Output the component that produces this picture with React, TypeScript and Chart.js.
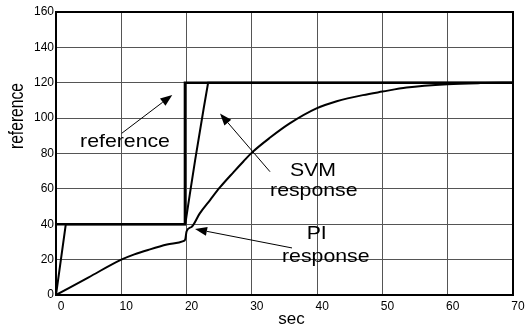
import React, { useEffect, useRef } from 'react';
import { Chart, registerables } from 'chart.js';

Chart.register(...registerables);

// ---- data ----
const refTime = [0, 19.75, 19.75, 70];
const refValue = [40, 40, 120, 120];

const svmTime = [0, 1.5, 19.8, 20.5, 21.3, 22.6, 23.3, 70];
const svmValue = [0, 40, 40, 57, 76, 105, 120, 120];

const piTime = [0, 5, 10, 12, 14.4, 17, 19.5, 19.8, 20, 20.8, 22, 23.6, 25.1, 27.2, 28.7, 30, 32.8, 35.8, 39.9, 43, 47, 50, 53.7, 60, 65, 70];
const piValue = [0, 10, 20, 23, 25.8, 28.5, 30.5, 31.5, 36, 38.6, 46, 53.7, 60.8, 69.5, 75.5, 80.5, 89, 97, 105.5, 109.5, 113, 115, 117.3, 119.2, 119.8, 120];

const xTickValues = [0, 10, 20, 30, 40, 50, 60, 70];
const yTickValues = [0, 20, 40, 60, 80, 100, 120, 140, 160];

const xTitle = 'sec';
const yTitle = 'reference';

// annotation labels, anchored in data coordinates (sec, value)
const noteTexts = ['reference', 'SVM', 'response', 'PI', 'response'];
const noteTime = [10.57, 39.36, 39.49, 39.93, 41.32];
const noteValue = [83.7, 67.3, 56.0, 31.5, 18.4];

// arrows: tail -> tip in data coordinates
const arrowTailTime = [10.06, 32.78, 36.15];
const arrowTailValue = [91.4, 69.7, 26.6];
const arrowTipTime = [17.81, 25.12, 21.29];
const arrowTipValue = [113.1, 102.6, 37.3];

const FAMILY = '"Liberation Sans", Arial, Helvetica, sans-serif';

const toXY = (t: number[], v: number[]) => t.map((x, i) => ({ x, y: v[i] }));

const overlayPlugin = {
  id: 'overlay',
  afterDatasetsDraw(chart: any) {
    const { ctx, chartArea: a, scales } = chart;
    const xs = scales.x;
    const ys = scales.y;
    ctx.save();

    // frame
    ctx.strokeStyle = '#000';
    ctx.lineWidth = 2;
    ctx.strokeRect(a.left, a.top, a.right - a.left, a.bottom - a.top);

    // arrows
    ctx.lineWidth = 1;
    ctx.fillStyle = '#000';
    for (let i = 0; i < arrowTipTime.length; i++) {
      const x0 = xs.getPixelForValue(arrowTailTime[i]);
      const y0 = ys.getPixelForValue(arrowTailValue[i]);
      const x1 = xs.getPixelForValue(arrowTipTime[i]);
      const y1 = ys.getPixelForValue(arrowTipValue[i]);
      const ang = Math.atan2(y1 - y0, x1 - x0);
      const headLen = 12;
      const headHalf = 4.5;
      const bx = x1 - headLen * Math.cos(ang);
      const by = y1 - headLen * Math.sin(ang);
      ctx.beginPath();
      ctx.moveTo(x0, y0);
      ctx.lineTo(bx, by);
      ctx.stroke();
      ctx.beginPath();
      ctx.moveTo(x1, y1);
      ctx.lineTo(bx + headHalf * Math.sin(ang), by - headHalf * Math.cos(ang));
      ctx.lineTo(bx - headHalf * Math.sin(ang), by + headHalf * Math.cos(ang));
      ctx.closePath();
      ctx.fill();
    }

    // annotation texts
    ctx.font = `19px ${FAMILY}`;
    ctx.textAlign = 'center';
    ctx.textBaseline = 'alphabetic';
    for (let i = 0; i < noteTexts.length; i++) {
      const px = xs.getPixelForValue(noteTime[i]);
      const py = ys.getPixelForValue(noteValue[i]);
      ctx.save();
      ctx.translate(px, py);
      ctx.scale(1.12, 1);
      ctx.fillText(noteTexts[i], 0, 0);
      ctx.restore();
    }

    // axis titles
    ctx.font = `17px ${FAMILY}`;
    ctx.fillText(xTitle, a.left + 235.5, chart.height - 1);

    ctx.save();
    ctx.translate(23, 116);
    ctx.rotate(-Math.PI / 2);
    ctx.scale(0.92, 1.15);
    ctx.fillText(yTitle, 0, 0);
    ctx.restore();

    ctx.restore();
  },
};

export default function App() {
  const canvasRef = useRef<HTMLCanvasElement | null>(null);

  useEffect(() => {
    const canvas = canvasRef.current;
    if (!canvas) return;
    const chart = new Chart(canvas, {
      type: 'line',
      data: {
        datasets: [
          {
            label: 'reference',
            data: toXY(refTime, refValue),
            borderColor: '#000',
            borderWidth: 2.5,
            pointRadius: 0,
            tension: 0,
            borderJoinStyle: 'miter',
          },
          {
            label: 'SVM response',
            data: toXY(svmTime, svmValue),
            borderColor: '#000',
            borderWidth: 2,
            pointRadius: 0,
            tension: 0,
          },
          {
            label: 'PI response',
            data: toXY(piTime, piValue),
            borderColor: '#000',
            borderWidth: 2,
            pointRadius: 0,
            cubicInterpolationMode: 'monotone',
          },
        ],
      },
      options: {
        animation: false,
        responsive: false,
        devicePixelRatio: 1,
        layout: { padding: { left: 0, top: 12, right: 13, bottom: 0 } },
        plugins: {
          legend: { display: false },
          tooltip: { enabled: false },
          title: { display: false },
        },
        scales: {
          x: {
            type: 'linear',
            min: 0,
            max: 70,
            afterBuildTicks: (s: any) => {
              s.ticks = xTickValues.map((v) => ({ value: v }));
            },
            afterFit: (s: any) => {
              s.height = 30;
            },
            ticks: {
              color: '#000',
              font: { family: FAMILY, size: 12 },
              padding: 4,
              labelOffset: 5,
              maxRotation: 0,
              autoSkip: false,
            },
            grid: { color: '#555', lineWidth: 1, drawTicks: false },
            border: { display: false },
          },
          y: {
            type: 'linear',
            min: 0,
            max: 160,
            afterBuildTicks: (s: any) => {
              s.ticks = yTickValues.map((v) => ({ value: v }));
            },
            afterFit: (s: any) => {
              s.width = 56;
            },
            ticks: {
              color: '#000',
              font: { family: FAMILY, size: 12 },
              padding: 2,
              autoSkip: false,
            },
            grid: { color: '#555', lineWidth: 1, drawTicks: false },
            border: { display: false },
          },
        },
      },
      plugins: [overlayPlugin],
    } as any);
    return () => chart.destroy();
  }, []);

  return (
    <div style={{ position: 'absolute', left: 0, top: 0, width: 526, height: 325, background: '#fff' }}>
      <canvas ref={canvasRef} width={526} height={325} style={{ display: 'block', width: 526, height: 325 }} />
    </div>
  );
}
